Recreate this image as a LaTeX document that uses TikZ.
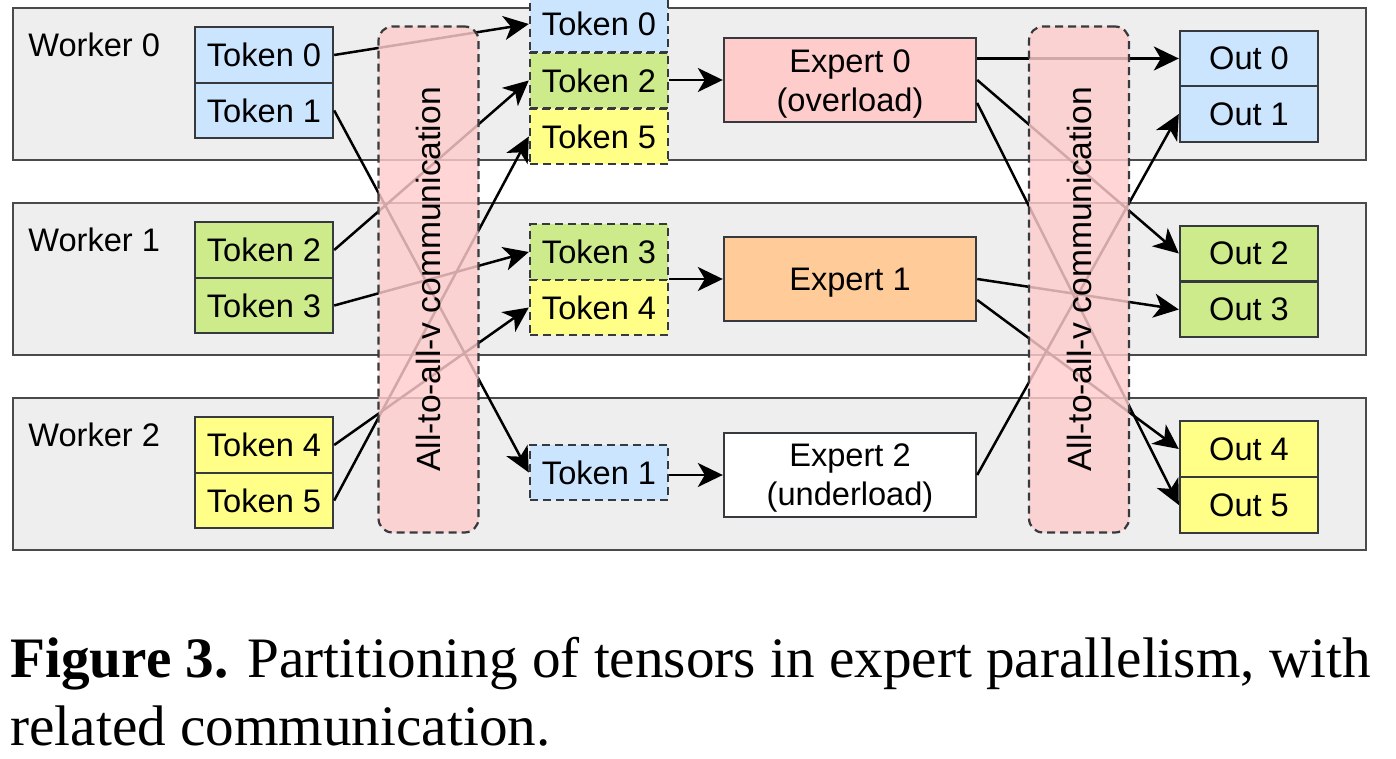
\documentclass[tikz,border=0pt]{standalone}
\usepackage{fontspec}
\setmainfont{Liberation Sans}
\newfontfamily\capfont{Liberation Serif}
\usetikzlibrary{arrows.meta}
\definecolor{wfill}{HTML}{EEEEEE}
\definecolor{wdraw}{HTML}{4A4A4A}
\definecolor{bdraw}{HTML}{36393D}
\definecolor{tblue}{HTML}{CCE5FF}
\definecolor{tgreen}{HTML}{CDEB8B}
\definecolor{tyellow}{HTML}{FFFF88}
\definecolor{tpink}{HTML}{FFCCCC}
\definecolor{torange}{HTML}{FFCC99}
\tikzset{
  worker/.style={draw=wdraw, fill=wfill, line width=1.2pt, minimum width=676.5pt, minimum height=76pt, inner sep=0pt},
  wlabel/.style={anchor=west, inner sep=0pt, font=\fontsize{16.3}{19}\selectfont},
  tok/.style={draw=bdraw, line width=1.2pt, minimum width=69pt, minimum height=27.75pt, inner sep=0pt, font=\fontsize{16.3}{19}\selectfont},
  mtok/.style={tok, dash pattern=on 4pt off 2.5pt},
  expert/.style={draw=bdraw, line width=1.2pt, minimum width=126pt, minimum height=42pt, inner sep=0pt},
  etext/.style={inner sep=0pt, align=center, font=\fontsize{16.3}{19.5}\selectfont},
  comm/.style={draw=bdraw, fill=tpink, fill opacity=0.82, line width=1.1pt, dash pattern=on 4pt off 2.5pt, rounded corners=7pt, minimum width=50pt, minimum height=253pt, inner sep=0pt},
  commtext/.style={rotate=90, inner sep=0pt, font=\fontsize{16.8}{19}\selectfont},
  arr/.style={-{Stealth[length=12.5pt,width=12pt,inset=3.5pt]}, line width=1.25pt, black},
}
\begin{document}
\begin{tikzpicture}[x=0.5pt,y=-0.5pt]
\clip (0,0) rectangle (1396,759);
\useasboundingbox (0,0) rectangle (1396,759);
\fill[white] (0,0) rectangle (1396,759);
% workers
\node[worker] (w0) at (689.5,84) {};
\node[worker] (w1) at (689.5,279) {};
\node[worker] (w2) at (689.5,474) {};
\node[wlabel] (w0l) at (28,45) {Worker 0};
\node[wlabel] (w1l) at (28,240) {Worker 1};
\node[wlabel] (w2l) at (28,435) {Worker 2};
% left tokens
\node[tok, fill=tblue] (t0) at (264,55) {Token 0};
\node[tok, fill=tblue] (t1) at (264,110.5) {Token 1};
\node[tok, fill=tgreen] (t2) at (264,250) {Token 2};
\node[tok, fill=tgreen] (t3) at (264,305.5) {Token 3};
\node[tok, fill=tyellow] (t4) at (264,445) {Token 4};
\node[tok, fill=tyellow] (t5) at (264,500.5) {Token 5};
% middle tokens
\node[mtok, fill=tblue] (m0) at (599,24) {Token 0};
\node[mtok, fill=tgreen] (m2) at (599,80.5) {Token 2};
\node[mtok, fill=tyellow] (m5) at (599,136.5) {Token 5};
\node[mtok, fill=tgreen] (m3) at (599,252) {Token 3};
\node[mtok, fill=tyellow] (m4) at (599,307.5) {Token 4};
\node[mtok, fill=tblue] (m1) at (599,472.5) {Token 1};
% experts
\node[expert, fill=tpink] (e0) at (850,80) {};
\node[etext] (e0t) at (850,83.5) {Expert 0\\(overload)};
\node[expert, fill=torange] (e1) at (850,279) {};
\node[etext] (e1t) at (850,283) {Expert 1};
\node[expert, fill=white] (e2) at (850,475) {};
\node[etext] (e2t) at (850,478) {Expert 2\\(underload)};
% outputs
\node[tok, fill=tblue] (o0) at (1249,58.5) {Out 0};
\node[tok, fill=tblue] (o1) at (1249,114) {Out 1};
\node[tok, fill=tgreen] (o2) at (1249,253.5) {Out 2};
\node[tok, fill=tgreen] (o3) at (1249,309.5) {Out 3};
\node[tok, fill=tyellow] (o4) at (1249,449) {Out 4};
\node[tok, fill=tyellow] (o5) at (1249,505) {Out 5};
% dispatch connectors
\draw[arr] (t0.east) -- (m0.west);
\draw[arr] (t1.east) -- (m1.west);
\draw[arr] (t2.east) -- (m2.west);
\draw[arr] (t3.east) -- (m3.west);
\draw[arr] (t4.east) -- (m4.west);
\draw[arr] (t5.east) -- (m5.west);
% into experts
\draw[arr] (m2.east |- e0.west) -- (e0.west);
\draw[arr] (m3.east |- e1.west) -- (e1.west);
\draw[arr] (m1.east |- e2.west) -- (e2.west);
% combine connectors
\draw[arr] (e0.east |- o0.west) -- (o0.west);
\draw[arr] (e0.east) -- (o2.west);
\draw[arr] ([yshift=-11.5pt]e0.east) -- (o5.west);
\draw[arr] (e1.east) -- (o3.west);
\draw[arr] ([yshift=-10.5pt]e1.east) -- (o4.west);
\draw[arr] (e2.east) -- (o1.west);
% communication boxes
\node[comm] (c1) at (428.5,279.5) {};
\node[commtext] (c1t) at (c1.center) {All-to-all-v communication};
\node[comm] (c2) at (1079,279.5) {};
\node[commtext] (c2t) at (c2.center) {All-to-all-v communication};
% caption
\node[anchor=base west, inner sep=0pt, font=\capfont\fontsize{28.6}{34}\selectfont] (cap1) at (10,677) {\textbf{Figure 3.} Partitioning of tensors in expert parallelism, with};
\node[anchor=base west, inner sep=0pt, font=\capfont\fontsize{28.6}{34}\selectfont] (cap2) at (10,745) {related communication.};
\end{tikzpicture}
\end{document}
